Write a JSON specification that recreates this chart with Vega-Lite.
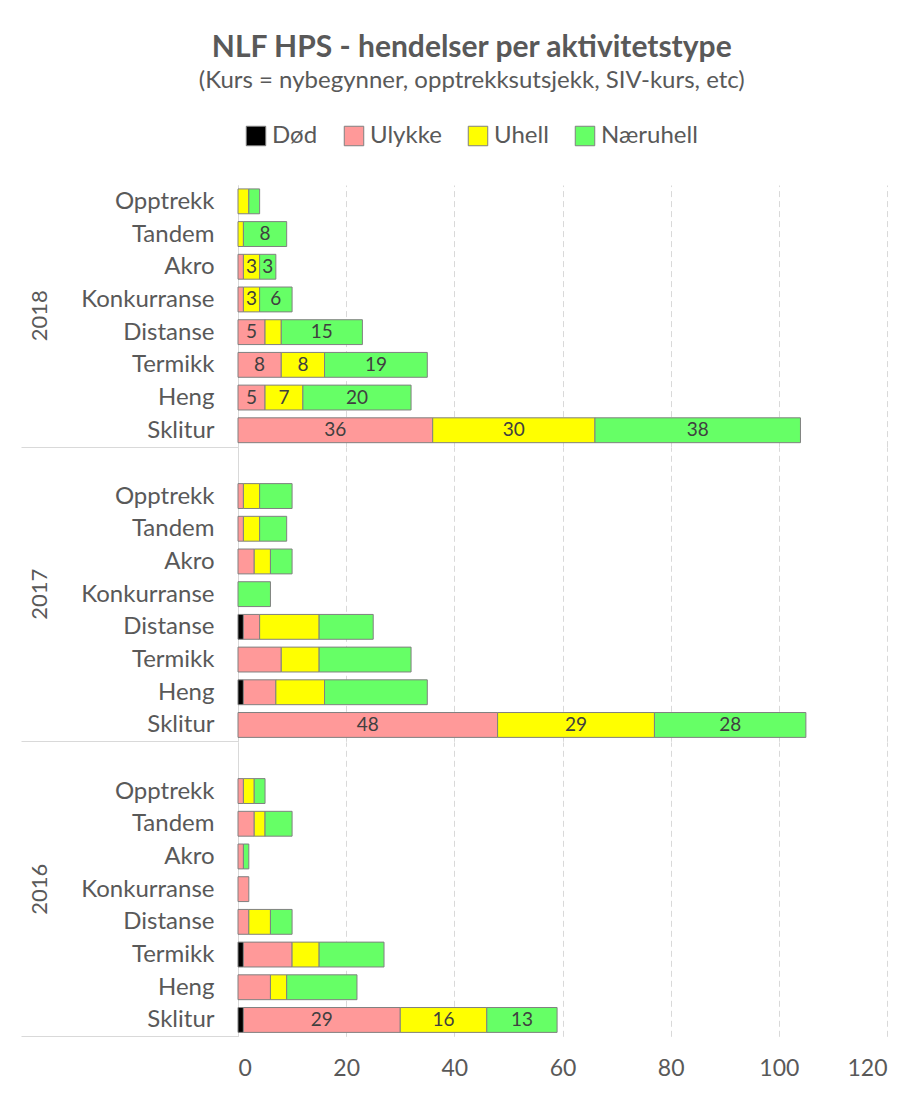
{
  "$schema": "https://vega.github.io/schema/vega-lite/v6.json",
  "background": "white",
  "bounds": "flush",
  "padding": {"left": 20, "top": 33, "right": 10, "bottom": 10},
  "title": {
    "text": "NLF HPS - hendelser per aktivitetstype",
    "subtitle": "(Kurs = nybegynner, opptrekksutsjekk, SIV-kurs, etc)",
    "anchor": "middle",
    "dx": 18,
    "font": "Lato",
    "fontSize": 30,
    "fontWeight": "bold",
    "color": "#595959",
    "subtitleFont": "Lato",
    "subtitleFontSize": 24,
    "subtitleColor": "#595959",
    "subtitlePadding": 6,
    "offset": 31
  },
  "config": {
    "view": {"stroke": null},
    "text": {"font": "Lato"},
    "legend": {
      "symbolStrokeColor": "#808080",
      "symbolStrokeWidth": 1
    }
  },
  "data": {
    "values": [
      {"year": "2018", "cat": "Opptrekk", "type": "Uhell", "n": 2, "show": false},
      {"year": "2018", "cat": "Opptrekk", "type": "Næruhell", "n": 2, "show": false},
      {"year": "2018", "cat": "Tandem", "type": "Uhell", "n": 1, "show": false},
      {"year": "2018", "cat": "Tandem", "type": "Næruhell", "n": 8, "show": true},
      {"year": "2018", "cat": "Akro", "type": "Ulykke", "n": 1, "show": false},
      {"year": "2018", "cat": "Akro", "type": "Uhell", "n": 3, "show": true},
      {"year": "2018", "cat": "Akro", "type": "Næruhell", "n": 3, "show": true},
      {"year": "2018", "cat": "Konkurranse", "type": "Ulykke", "n": 1, "show": false},
      {"year": "2018", "cat": "Konkurranse", "type": "Uhell", "n": 3, "show": true},
      {"year": "2018", "cat": "Konkurranse", "type": "Næruhell", "n": 6, "show": true},
      {"year": "2018", "cat": "Distanse", "type": "Ulykke", "n": 5, "show": true},
      {"year": "2018", "cat": "Distanse", "type": "Uhell", "n": 3, "show": false},
      {"year": "2018", "cat": "Distanse", "type": "Næruhell", "n": 15, "show": true},
      {"year": "2018", "cat": "Termikk", "type": "Ulykke", "n": 8, "show": true},
      {"year": "2018", "cat": "Termikk", "type": "Uhell", "n": 8, "show": true},
      {"year": "2018", "cat": "Termikk", "type": "Næruhell", "n": 19, "show": true},
      {"year": "2018", "cat": "Heng", "type": "Ulykke", "n": 5, "show": true},
      {"year": "2018", "cat": "Heng", "type": "Uhell", "n": 7, "show": true},
      {"year": "2018", "cat": "Heng", "type": "Næruhell", "n": 20, "show": true},
      {"year": "2018", "cat": "Sklitur", "type": "Ulykke", "n": 36, "show": true},
      {"year": "2018", "cat": "Sklitur", "type": "Uhell", "n": 30, "show": true},
      {"year": "2018", "cat": "Sklitur", "type": "Næruhell", "n": 38, "show": true},
      {"year": "2017", "cat": " ", "type": "Næruhell", "n": 0, "show": false},
      {"year": "2017", "cat": "Opptrekk", "type": "Ulykke", "n": 1, "show": false},
      {"year": "2017", "cat": "Opptrekk", "type": "Uhell", "n": 3, "show": false},
      {"year": "2017", "cat": "Opptrekk", "type": "Næruhell", "n": 6, "show": false},
      {"year": "2017", "cat": "Tandem", "type": "Ulykke", "n": 1, "show": false},
      {"year": "2017", "cat": "Tandem", "type": "Uhell", "n": 3, "show": false},
      {"year": "2017", "cat": "Tandem", "type": "Næruhell", "n": 5, "show": false},
      {"year": "2017", "cat": "Akro", "type": "Ulykke", "n": 3, "show": false},
      {"year": "2017", "cat": "Akro", "type": "Uhell", "n": 3, "show": false},
      {"year": "2017", "cat": "Akro", "type": "Næruhell", "n": 4, "show": false},
      {"year": "2017", "cat": "Konkurranse", "type": "Næruhell", "n": 6, "show": false},
      {"year": "2017", "cat": "Distanse", "type": "Død", "n": 1, "show": false},
      {"year": "2017", "cat": "Distanse", "type": "Ulykke", "n": 3, "show": false},
      {"year": "2017", "cat": "Distanse", "type": "Uhell", "n": 11, "show": false},
      {"year": "2017", "cat": "Distanse", "type": "Næruhell", "n": 10, "show": false},
      {"year": "2017", "cat": "Termikk", "type": "Ulykke", "n": 8, "show": false},
      {"year": "2017", "cat": "Termikk", "type": "Uhell", "n": 7, "show": false},
      {"year": "2017", "cat": "Termikk", "type": "Næruhell", "n": 17, "show": false},
      {"year": "2017", "cat": "Heng", "type": "Død", "n": 1, "show": false},
      {"year": "2017", "cat": "Heng", "type": "Ulykke", "n": 6, "show": false},
      {"year": "2017", "cat": "Heng", "type": "Uhell", "n": 9, "show": false},
      {"year": "2017", "cat": "Heng", "type": "Næruhell", "n": 19, "show": false},
      {"year": "2017", "cat": "Sklitur", "type": "Ulykke", "n": 48, "show": true},
      {"year": "2017", "cat": "Sklitur", "type": "Uhell", "n": 29, "show": true},
      {"year": "2017", "cat": "Sklitur", "type": "Næruhell", "n": 28, "show": true},
      {"year": "2016", "cat": " ", "type": "Næruhell", "n": 0, "show": false},
      {"year": "2016", "cat": "Opptrekk", "type": "Ulykke", "n": 1, "show": false},
      {"year": "2016", "cat": "Opptrekk", "type": "Uhell", "n": 2, "show": false},
      {"year": "2016", "cat": "Opptrekk", "type": "Næruhell", "n": 2, "show": false},
      {"year": "2016", "cat": "Tandem", "type": "Ulykke", "n": 3, "show": false},
      {"year": "2016", "cat": "Tandem", "type": "Uhell", "n": 2, "show": false},
      {"year": "2016", "cat": "Tandem", "type": "Næruhell", "n": 5, "show": false},
      {"year": "2016", "cat": "Akro", "type": "Ulykke", "n": 1, "show": false},
      {"year": "2016", "cat": "Akro", "type": "Næruhell", "n": 1, "show": false},
      {"year": "2016", "cat": "Konkurranse", "type": "Ulykke", "n": 2, "show": false},
      {"year": "2016", "cat": "Distanse", "type": "Ulykke", "n": 2, "show": false},
      {"year": "2016", "cat": "Distanse", "type": "Uhell", "n": 4, "show": false},
      {"year": "2016", "cat": "Distanse", "type": "Næruhell", "n": 4, "show": false},
      {"year": "2016", "cat": "Termikk", "type": "Død", "n": 1, "show": false},
      {"year": "2016", "cat": "Termikk", "type": "Ulykke", "n": 9, "show": false},
      {"year": "2016", "cat": "Termikk", "type": "Uhell", "n": 5, "show": false},
      {"year": "2016", "cat": "Termikk", "type": "Næruhell", "n": 12, "show": false},
      {"year": "2016", "cat": "Heng", "type": "Ulykke", "n": 6, "show": false},
      {"year": "2016", "cat": "Heng", "type": "Uhell", "n": 3, "show": false},
      {"year": "2016", "cat": "Heng", "type": "Næruhell", "n": 13, "show": false},
      {"year": "2016", "cat": "Sklitur", "type": "Død", "n": 1, "show": false},
      {"year": "2016", "cat": "Sklitur", "type": "Ulykke", "n": 29, "show": true},
      {"year": "2016", "cat": "Sklitur", "type": "Uhell", "n": 16, "show": true},
      {"year": "2016", "cat": "Sklitur", "type": "Næruhell", "n": 13, "show": true}
    ]
  },
  "transform": [
    {"calculate": "indexof(['Død','Ulykke','Uhell','Næruhell'], datum.type)", "as": "k"},
    {"stack": "n", "groupby": ["year", "cat"], "sort": [{"field": "k", "order": "ascending"}], "as": ["x0", "x1"]},
    {"calculate": "(datum.x0 + datum.x1) / 2", "as": "mid"}
  ],
  "facet": {
    "row": {
      "field": "year",
      "type": "nominal",
      "sort": ["2018", "2017", "2016"],
      "header": {
        "title": null,
        "labelAngle": -90,
        "labelFont": "Lato",
        "labelFontSize": 22,
        "labelColor": "#595959",
        "labelPadding": 176
      }
    }
  },
  "spacing": 0,
  "resolve": {"scale": {"y": "independent"}},
  "spec": {
    "width": 649,
    "height": {"step": 32.7},
    "encoding": {
      "y": {
        "field": "cat",
        "type": "nominal",
        "sort": [" ", "Opptrekk", "Tandem", "Akro", "Konkurranse", "Distanse", "Termikk", "Heng", "Sklitur"],
        "scale": {"paddingInner": 0.24, "paddingOuter": 0.12},
        "axis": {
          "title": null,
          "domainColor": "#d9d9d9",
          "domainWidth": 1,
          "bandPosition": 1,
          "tickSize": 217,
          "tickOffset": 3.92,
          "tickColor": "#d9d9d9",
          "tickOpacity": {"condition": {"test": "datum.value === 'Sklitur'", "value": 1}, "value": 0},
          "labelPadding": -193,
          "labelOffset": -3.92,
          "labelFont": "Lato",
          "labelFontSize": 24,
          "labelColor": "#595959"
        }
      }
    },
    "layer": [
      {
        "transform": [{"filter": "datum.n > 0"}],
        "mark": {"type": "bar", "stroke": "#808080", "strokeWidth": 1},
        "encoding": {
          "x": {
            "field": "x0",
            "type": "quantitative",
            "scale": {"domain": [0, 120]},
            "axis": {
              "title": null,
              "values": [0, 20, 40, 60, 80, 100, 120],
              "grid": true,
              "gridColor": "#d9d9d9",
              "gridDash": [6, 4],
              "domain": false,
              "ticks": false,
              "labelFont": "Lato",
              "labelFontSize": 23,
              "labelColor": "#595959",
              "labelPadding": 20
            }
          },
          "x2": {"field": "x1"},
          "color": {
            "field": "type",
            "type": "nominal",
            "scale": {
              "domain": ["Død", "Ulykke", "Uhell", "Næruhell"],
              "range": ["#000000", "#ff9999", "#ffff00", "#66ff66"]
            },
            "legend": {
              "title": null,
              "orient": "none",
              "direction": "horizontal",
              "legendX": 6,
              "legendY": -61,
              "symbolType": "square",
              "symbolSize": 380,
              "symbolOpacity": 1,
              "labelFont": "Lato",
              "labelFontSize": 24,
              "labelColor": "#595959",
              "labelOffset": 4,
              "columnPadding": 24
            }
          }
        }
      },
      {
        "mark": {"type": "text", "font": "Lato", "fontSize": 19, "color": "#404040"},
        "encoding": {
          "x": {"field": "mid", "type": "quantitative"},
          "text": {"condition": {"test": "datum.show", "field": "n", "type": "quantitative"}, "value": ""}
        }
      }
    ]
  }
}
